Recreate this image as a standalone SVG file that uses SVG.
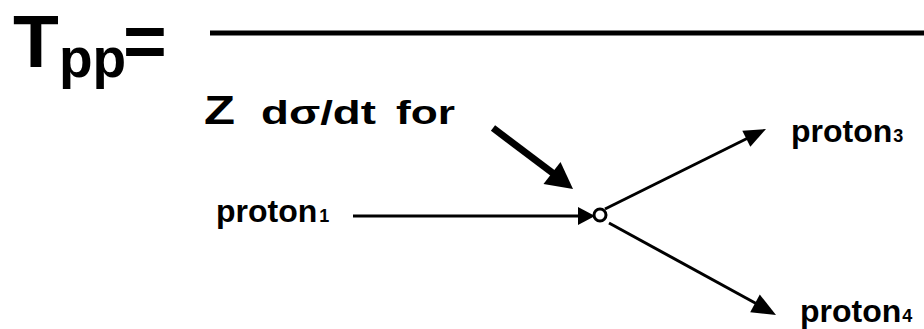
<svg xmlns="http://www.w3.org/2000/svg" width="924" height="329" viewBox="0 0 924 329">
  <style>
    .t { font-family: "Liberation Sans", Arial, sans-serif; font-weight: bold; fill: #000; }
    .sub { font-size: 18px; }
    .shaft { stroke: #000; fill: none; stroke-linecap: butt; }
    .head { fill: #000; stroke: none; }
  </style>
  <rect width="924" height="329" fill="#fff"/>

  <!-- formula header: T_pp = ______ -->
  <g id="formula">
    <text class="t" x="13" y="67" font-size="75">T</text>
    <text class="t" x="59" y="77" font-size="55">pp</text>
    <text class="t" x="123" y="67" font-size="75">=</text>
    <rect x="210" y="30.5" width="714" height="5" fill="#000"/>
  </g>

  <!-- numerator label -->
  <g id="label-z">
    <text class="t" x="204" y="124" font-size="40" textLength="31" lengthAdjust="spacingAndGlyphs">Z</text>
    <text class="t" x="261" y="124" font-size="34" textLength="115" lengthAdjust="spacingAndGlyphs">dσ/dt</text>
    <text class="t" x="396" y="124" font-size="34" textLength="59" lengthAdjust="spacingAndGlyphs">for</text>
  </g>

  <g id="proton1">
    <text class="t" x="216" y="222" font-size="32">proton<tspan class="sub" dx="2">1</tspan></text>
  </g>
  <g id="proton3">
    <text class="t" x="791" y="142" font-size="32">proton<tspan class="sub" dx="1">3</tspan></text>
  </g>
  <g id="proton4">
    <text class="t" x="800" y="322" font-size="32">proton<tspan class="sub" dx="1">4</tspan></text>
  </g>

  <!-- interaction vertex -->
  <g id="vertex">
    <circle cx="600" cy="215" r="6" fill="#fff" stroke="#000" stroke-width="3"/>
  </g>

  <g id="connectors">
    <!-- incoming proton -->
    <line class="shaft" x1="353" y1="216" x2="580" y2="216" stroke-width="3"/>
    <polygon class="head" points="578,207 595,216 578,225"/>
    <!-- pointer to the vertex -->
    <line class="shaft" x1="493" y1="128" x2="554" y2="174" stroke-width="7"/>
    <polygon class="head" points="543.5,184 560.5,162 573,189"/>
    <!-- outgoing proton 3 -->
    <line class="shaft" x1="605" y1="209" x2="748" y2="138" stroke-width="3"/>
    <polygon class="head" points="750.3,146.8 742.3,130.8 766,129"/>
    <!-- outgoing proton 4 -->
    <line class="shaft" x1="609" y1="223" x2="757" y2="304" stroke-width="3"/>
    <polygon class="head" points="750.2,312.2 759.8,294.6 776,315"/>
  </g>
</svg>
